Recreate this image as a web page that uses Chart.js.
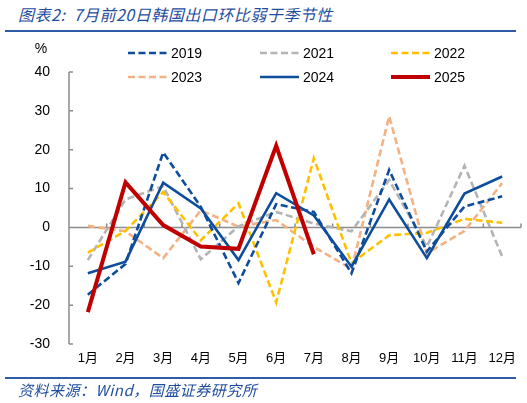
<!DOCTYPE html>
<html>
<head>
<meta charset="utf-8">
<script src="https://cdn.jsdelivr.net/npm/chart.js@4/dist/chart.umd.min.js"></script>
<style>
  body { margin: 0; background: #fff; }
  #wrap { position: relative; width: 527px; height: 403px; overflow: hidden; }
  #chart { position: absolute; left: 0; top: 0; }
  .title { position: absolute; left: 18px; top: 4px; font: italic 16px/20px "Noto Sans CJK SC", sans-serif; letter-spacing: 0.5px; color: #1f4e9e; white-space: nowrap; }
  .source { position: absolute; left: 18px; top: 381px; font: italic 15px/18px "Noto Sans CJK SC", sans-serif; letter-spacing: 0.5px; color: #1f4e9e; white-space: nowrap; }
  .rule { position: absolute; left: 5px; width: 511px; height: 2px; background: #2f5ca8; }
</style>
</head>
<body>
<div id="wrap">
  <div class="title">图表2:&nbsp; 7月前20日韩国出口环比弱于季节性</div>
  <div class="rule" style="top:30px"></div>
  <canvas id="chart" width="527" height="403"></canvas>
  <div class="rule" style="top:377px"></div>
  <div class="source">资料来源：Wind，国盛证券研究所</div>
</div>
<script>
// 韩国出口环比（%），读自原图
const months = ['1月','2月','3月','4月','5月','6月','7月','8月','9月','10月','11月','12月'];
const y2019 = [-17.3, -9.4, 19.3, 5.3, -14.3, 6.0, 4.0, -11.8, 14.8, -6.2, 5.4, 8.0];
const y2021 = [-8.4, 7.2, 10.6, -8.2, 0.3, 4.0, 1.0, -1.0, 12.2, -5.0, 15.9, -7.5];
const y2022 = [-6.5, -0.9, 9.1, -3.3, 6.2, -19.3, 17.8, -9.2, -2.0, -1.4, 2.2, 1.2];
const y2023 = [0.4, -1.0, -7.9, 4.4, 0.2, 1.9, -5.0, -10.7, 28.6, -6.7, -0.9, 11.4];
const y2024 = [-11.8, -8.8, 11.5, 4.9, -8.4, 8.8, 3.1, -10.1, 7.2, -7.9, 8.7, 13.1];
const y2025 = [-21.8, 11.6, 0.6, -4.9, -5.5, 21.0, -6.9];
const yTicks = { min: -30, max: 40, step: 10 };

const FONT = '"Liberation Sans", "Noto Sans CJK SC", sans-serif';
const AXIS = '#8c8c8c';

function line(label, data, color, dashed, width, order) {
  return {
    label, data, order,
    borderColor: color, backgroundColor: color,
    borderWidth: width,
    borderDash: dashed ? [7, 3.5] : [],
    borderCapStyle: 'butt', borderJoinStyle: 'miter',
    pointRadius: 0, tension: 0, fill: false
  };
}

// 坐标轴线、零线、内刻度
const axisDecor = {
  id: 'axisDecor',
  beforeDatasetsDraw(chart) {
    const { ctx, chartArea: a, scales: { x, y } } = chart;
    ctx.save();
    ctx.strokeStyle = AXIS;
    ctx.lineWidth = 1.5;
    ctx.beginPath();
    ctx.moveTo(a.left, y.getPixelForValue(yTicks.max));
    ctx.lineTo(a.left, y.getPixelForValue(yTicks.min));
    y.ticks.forEach(t => {
      const py = y.getPixelForValue(t.value);
      ctx.moveTo(a.left, py);
      ctx.lineTo(a.left + 4, py);
    });
    const y0 = y.getPixelForValue(0);
    ctx.moveTo(a.left, y0);
    ctx.lineTo(a.right, y0);
    for (let i = 0; i <= months.length; i++) {
      const px = x.getPixelForValue(i - 0.5);
      ctx.moveTo(px, y0);
      ctx.lineTo(px, y0 - 4);
    }
    ctx.stroke();
    ctx.fillStyle = '#000';
    ctx.font = '14px ' + FONT;
    ctx.textAlign = 'center';
    ctx.textBaseline = 'middle';
    ctx.fillText('%', 41, 49);
    ctx.restore();
  }
};

// 三列两行图例
const gridLegend = {
  id: 'gridLegend',
  afterDraw(chart) {
    const { ctx } = chart;
    const cols = [128, 260, 391], rows = [53, 77];
    ctx.save();
    ctx.font = '14px ' + FONT;
    ctx.textBaseline = 'middle';
    ctx.fillStyle = '#000';
    chart.data.datasets.forEach((ds, i) => {
      const x0 = cols[i % 3], yy = rows[Math.floor(i / 3)];
      ctx.strokeStyle = ds.borderColor;
      ctx.lineWidth = ds.borderWidth;
      ctx.lineCap = 'butt';
      ctx.setLineDash(ds.borderDash);
      ctx.beginPath();
      ctx.moveTo(x0, yy);
      ctx.lineTo(x0 + 39, yy);
      ctx.stroke();
      ctx.setLineDash([]);
      ctx.fillText(ds.label, x0 + 43, yy + 1);
    });
    ctx.restore();
  }
};

new Chart(document.getElementById('chart'), {
  type: 'line',
  data: {
    labels: months,
    datasets: [
      line('2019', y2019, '#0e4c9c', true, 2.6, 3),
      line('2021', y2021, '#b4b4b4', true, 2.6, 5),
      line('2022', y2022, '#ffc000', true, 2.6, 4),
      line('2023', y2023, '#f4b183', true, 2.6, 6),
      line('2024', y2024, '#0e4c9c', false, 2.6, 2),
      line('2025', y2025, '#c00000', false, 4, 1)
    ]
  },
  options: {
    responsive: false,
    animation: false,
    devicePixelRatio: 1,
    layout: { padding: { top: 72, bottom: 35, left: 0, right: 6 } },
    plugins: { legend: { display: false }, tooltip: { enabled: false } },
    scales: {
      x: {
        type: 'category',
        offset: true,
        grid: { display: false, drawTicks: false },
        border: { display: false },
        ticks: { color: '#000', font: { family: FONT, size: 13 }, padding: 7, maxRotation: 0, autoSkip: false },
        afterFit(s) { s.height = 24; }
      },
      y: {
        min: yTicks.min, max: yTicks.max,
        grid: { display: false, drawTicks: false },
        border: { display: false },
        ticks: { stepSize: yTicks.step, color: '#000', font: { family: FONT, size: 14 }, padding: 19 },
        afterFit(s) { s.width = 69; }
      }
    }
  },
  plugins: [axisDecor, gridLegend]
});
</script>
</body>
</html>
